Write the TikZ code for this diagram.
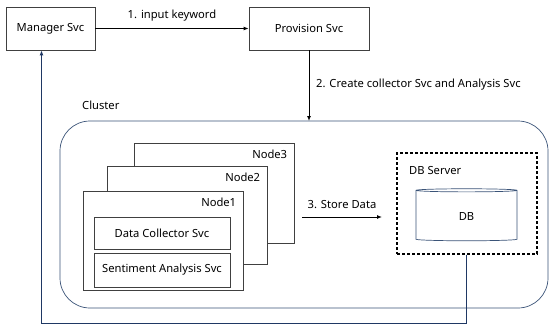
\documentclass[tikz,border=0pt]{standalone}
\usepackage{fontspec}
\setmainfont{Noto Sans}
\usetikzlibrary{arrows.meta,shapes.geometric}
\definecolor{navy}{HTML}{1F3864}
\definecolor{clust}{HTML}{3B5478}
\begin{document}
\begin{tikzpicture}[x=1pt,y=-1pt,
  font=\fontsize{11.2}{13}\selectfont,
  box/.style={draw=black!75,line width=0.7pt,fill=white},
  arr/.style={-{Latex[length=5pt,width=4pt]},line width=1pt},
  lbl/.style={inner sep=0pt}]
\useasboundingbox (0,0) rectangle (550,327);
\fill[white] (0,0) rectangle (550,327);
% cluster
\draw[clust,line width=0.7pt,rounded corners=30pt] (60,121) rectangle (548,308);
\node[lbl,anchor=west] (cl) at (82,105) {Cluster};
% top boxes
\node[box,minimum width=89pt,minimum height=43pt] (mgr) at (50.5,28.5) {Manager Svc};
\node[box,minimum width=120pt,minimum height=43pt] (prov) at (309,28.5) {Provision Svc};
\draw[arr] (mgr.east) -- (prov.west) node[midway,above=7pt,lbl] {1. input keyword};
\coordinate (ctop) at (309,121);
\draw[arr] (prov.south) -- (ctop);
\node[lbl,anchor=west] (l2) at (316,85) {2. Create collector Svc and Analysis Svc};
% nodes
\node[box,minimum width=160pt,minimum height=100pt] (n3) at (214,193) {};
\node[lbl,anchor=north east] at ([xshift=-7pt,yshift=-7pt]n3.north east) {Node3};
\node[box,minimum width=160pt,minimum height=98pt] (n2) at (187,215) {};
\node[lbl,anchor=north east] at ([xshift=-7pt,yshift=-7pt]n2.north east) {Node2};
\node[box,minimum width=160pt,minimum height=99pt] (n1) at (163,240.5) {};
\node[lbl,anchor=north east] at ([xshift=-7pt,yshift=-7pt]n1.north east) {Node1};
\node[box,minimum width=136pt,minimum height=32pt] (dc) at (162,233) {Data Collector Svc};
\node[box,minimum width=136pt,minimum height=34pt] (sa) at (162,270) {Sentiment Analysis Svc};
% DB server
\node[draw,dashed,line width=1.4pt,dash pattern=on 3pt off 2pt,minimum width=140pt,minimum height=101pt] (dbs) at (467,203.5) {};
\node[lbl,anchor=west] at (409,170) {DB Server};
\node[draw=clust,line width=0.7pt,cylinder,shape border rotate=90,aspect=0.14,minimum width=101pt,minimum height=52pt] (db) at (466.5,216) {DB};
% store data
\coordinate (sd1) at (302,217);
\coordinate (sd2) at (382,217);
\draw[arr] (sd1) -- (sd2) node[midway,above=8pt,lbl] {3. Store Data};
% return line
\coordinate (r1) at (466,323);
\coordinate (r2) at (41.5,323);
\draw[navy,line width=1pt,-{Latex[length=5pt,width=4pt]}] (dbs.south -| r1) -- (r1) -- (r2) -- (mgr.south -| r2);
\end{tikzpicture}
\end{document}
